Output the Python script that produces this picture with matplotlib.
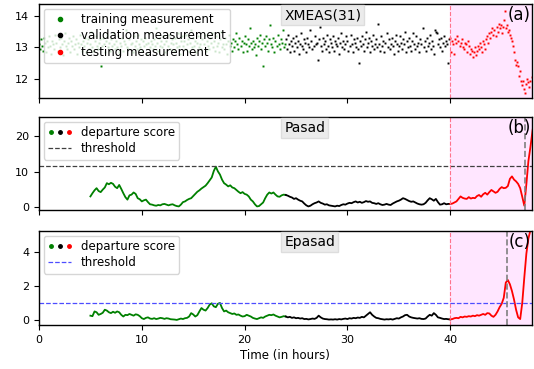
import numpy as np
import matplotlib
matplotlib.use("Agg")
import matplotlib.pyplot as plt
from matplotlib.lines import Line2D
from matplotlib.legend_handler import HandlerTuple

# XMEAS(31) measurements, one every 0.1 h from t=0
train_meas = [
    13.10, 12.95, 13.25, 13.05, 12.90, 13.30, 13.15, 12.85, 13.20, 13.00,
    13.35, 13.05, 12.80, 13.20, 13.10, 12.95, 13.40, 13.15, 12.90, 13.25,
    13.00, 13.30, 13.10, 12.75, 13.20, 13.45, 13.05, 12.95, 13.15, 13.30,
    12.85, 13.20, 13.05, 13.35, 12.95, 13.10, 13.25, 12.80, 13.15, 13.00,
    13.40, 13.10, 12.90, 13.20, 13.05, 13.30, 12.85, 13.15, 13.25, 12.95,
    13.10, 13.50, 13.00, 12.90, 13.20, 13.35, 13.05, 12.95, 13.15, 13.25,
    12.40, 13.05, 13.30, 13.10, 12.85, 13.20, 13.40, 13.00, 13.15, 12.90,
    13.25, 13.05, 13.45, 13.10, 12.95, 13.20, 13.00, 13.35, 12.85, 13.15,
    13.05, 13.30, 12.90, 13.20, 13.10, 13.55, 13.00, 12.95, 13.25, 13.10,
    13.15, 12.85, 13.35, 13.05, 13.20, 12.95, 13.40, 13.10, 13.00, 13.25,
    12.90, 13.20, 13.05, 13.30, 13.10, 12.80, 13.15, 13.45, 13.00, 13.20,
    13.10, 12.95, 13.25, 13.05, 13.60, 13.15, 12.90, 13.30, 13.05, 13.20,
    13.00, 13.35, 13.10, 12.85, 13.20, 13.05, 13.40, 12.95, 13.15, 13.25,
    13.10, 12.90, 13.30, 13.15, 13.00, 13.45, 13.05, 12.80, 13.20, 13.35,
    13.05, 13.20, 12.95, 13.40, 13.10, 13.25, 12.90, 13.15, 13.55, 13.00,
    13.30, 13.05, 13.20, 12.85, 13.15, 13.35, 13.00, 13.10, 12.95, 13.25,
    13.10, 13.40, 12.90, 13.20, 13.05, 12.95, 13.30, 13.15, 13.45, 13.00,
    13.20, 12.90, 13.35, 13.05, 13.15, 12.85, 13.25, 13.50, 13.00, 13.10,
    12.95, 13.30, 13.10, 12.80, 13.20, 13.40, 13.05, 13.15, 12.90, 13.25,
    13.00, 13.20, 13.45, 13.10, 12.95, 13.30, 13.05, 13.20, 12.85, 13.15,
    13.35, 13.10, 12.90, 13.25, 13.05, 13.60, 13.15, 12.95, 13.20, 13.00,
    13.10, 12.75, 13.30, 13.05, 13.20, 13.40, 12.95, 13.15, 12.40, 13.25,
    13.05, 13.35, 13.15, 12.90, 13.25, 13.70, 13.10, 13.00, 13.30, 12.85,
    13.20, 13.05, 13.40, 13.10, 12.95, 13.25, 13.15, 13.55, 13.00, 13.10,
]
valid_meas = [
    13.25, 12.95, 13.40, 13.10, 12.85, 13.20, 13.05, 13.30, 12.90, 13.15,
    13.35, 13.00, 13.20, 12.80, 13.10, 13.45, 13.05, 12.95, 13.25, 13.15,
    12.85, 13.30, 13.10, 13.00, 13.55, 13.20, 12.95, 13.05, 13.35, 13.10,
    13.15, 12.60, 13.25, 13.65, 13.05, 12.90, 13.30, 13.10, 13.20, 12.95,
    13.40, 13.05, 12.85, 13.25, 13.15, 13.00, 13.35, 12.90, 13.20, 13.10,
    13.05, 13.30, 12.80, 13.15, 13.45, 13.00, 13.20, 12.95, 13.10, 13.35,
    13.20, 12.90, 13.05, 13.40, 13.10, 12.85, 13.25, 13.15, 13.00, 13.30,
    12.95, 12.50, 13.20, 13.05, 13.35, 13.10, 12.90, 13.25, 13.50, 13.00,
    13.15, 13.30, 12.85, 13.20, 13.05, 13.40, 12.95, 13.10, 13.25, 13.00,
    13.75, 13.10, 12.90, 13.35, 13.05, 13.20, 12.85, 13.15, 13.45, 13.00,
    13.25, 12.95, 13.10, 13.30, 13.05, 12.80, 13.20, 13.40, 13.10, 12.90,
    13.05, 13.35, 13.15, 12.95, 13.25, 13.10, 13.50, 12.85, 13.20, 13.00,
    13.30, 13.05, 12.90, 13.20, 13.45, 13.10, 12.95, 13.35, 13.05, 13.15,
    12.85, 13.25, 13.10, 13.60, 13.00, 13.20, 12.90, 13.30, 13.05, 13.15,
    13.40, 12.95, 13.20, 13.05, 12.80, 13.55, 13.50, 13.45, 13.10, 13.25,
    13.00, 13.30, 12.90, 13.15, 13.35, 13.05, 13.20, 13.10, 12.50, 13.25,
]
test_meas = [
    13.30, 12.85, 13.20, 13.10, 12.80, 13.25, 13.15, 13.35, 13.20, 13.05,
    13.15, 13.25, 13.00, 12.95, 13.15, 13.10, 12.85, 13.20, 13.05, 12.80,
    12.95, 12.90, 12.70, 12.85, 13.00, 12.75, 12.90, 13.05, 12.95, 13.15,
    13.00, 12.85, 13.20, 13.10, 12.95, 13.25, 13.35, 13.15, 13.45, 13.30,
    13.50, 13.60, 13.40, 13.55, 13.35, 13.65, 13.50, 13.75, 13.60, 13.70,
    13.45, 13.65, 13.85, 14.15, 13.60, 13.70, 13.50, 13.55, 13.40, 13.30,
    13.20, 13.05, 12.85, 12.60, 12.45, 12.55, 12.40, 12.10, 12.25, 11.95,
    11.80, 11.95, 11.70, 11.55, 11.85, 12.00, 11.90, 11.75, 11.95, 12.05,
]

# departure scores, one every 0.2 h from t=5
pasad_train = [
    3.1, 4.0, 4.8, 5.4, 4.6, 4.3, 5.0, 5.6, 6.8, 6.5,
    6.9, 6.6, 5.8, 5.4, 6.3, 5.2, 4.0, 2.9, 2.2, 3.4,
    3.6, 4.2, 3.8, 2.6, 2.3, 1.7, 2.0, 2.2, 1.5, 0.9,
    0.8, 0.6, 0.5, 0.7, 0.6, 0.9, 1.0, 0.8, 0.6, 0.8,
    0.9, 0.6, 0.4, 0.3, 0.8, 1.5, 1.7, 2.1, 2.4, 2.6,
    3.2, 3.8, 4.4, 4.8, 5.3, 5.7, 6.1, 6.8, 7.6, 8.4,
    10.2, 11.4, 10.1, 9.2, 7.8, 6.8, 6.4, 5.9, 6.2, 5.6,
    5.4, 4.9, 4.4, 4.0, 4.3, 3.8, 3.6, 3.1, 2.2, 1.7,
    0.9, 0.3, 0.4, 0.9, 1.4, 2.6, 3.6, 4.2, 3.9, 4.2,
    3.6, 3.1, 3.0, 3.4, 3.6,
]
pasad_valid = [
    3.5, 3.3, 3.0, 2.8, 2.4, 2.6, 2.2, 1.9, 1.7, 1.1,
    0.6, 0.3, 0.5, 0.9, 1.2, 1.4, 1.7, 1.3, 1.1, 0.8,
    0.9, 0.6, 0.5, 0.4, 0.3, 0.5, 0.4, 0.7, 0.9, 0.8,
    1.1, 1.3, 1.2, 1.5, 1.7, 1.4, 1.6, 1.3, 1.5, 1.8,
    1.6, 1.7, 1.3, 1.2, 1.0, 1.2, 0.9, 0.7, 0.8, 1.0,
    0.8, 0.7, 1.1, 1.4, 1.7, 1.9, 2.2, 2.6, 2.4, 2.1,
    1.8, 1.6, 1.7, 1.4, 1.1, 0.9, 0.8, 0.9, 1.3, 2.0,
    2.6, 2.3, 1.9, 2.4, 1.5, 0.8, 0.9, 1.2, 0.9, 1.0,
]
pasad_test = [
    1.0, 1.1, 1.4, 1.7, 2.4, 3.1, 2.7, 2.5, 2.4, 2.9,
    2.5, 2.7, 2.6, 3.2, 3.5, 3.0, 3.7, 4.1, 3.6, 4.3,
    4.9, 4.5, 4.1, 4.4, 5.2, 5.7, 5.4, 5.5, 6.0, 8.0,
    8.7, 7.8, 7.3, 6.6, 5.4, 3.0, 0.5, 6.5, 13.0, 17.0,
    21.5, 25.0,
]
epasad_train = [
    0.25, 0.22, 0.50, 0.45, 0.30, 0.35, 0.42, 0.60, 0.55, 0.45,
    0.40, 0.48, 0.42, 0.50, 0.45, 0.30, 0.20, 0.30, 0.28, 0.35,
    0.30, 0.25, 0.33, 0.30, 0.22, 0.10, 0.05, 0.12, 0.15, 0.08,
    0.06, 0.10, 0.05, 0.08, 0.12, 0.10, 0.06, 0.10, 0.08, 0.04,
    0.03, 0.02, 0.00, 0.04, 0.08, 0.05, 0.10, 0.12, 0.20, 0.40,
    0.32, 0.20, 0.28, 0.50, 0.70, 0.60, 0.55, 0.70, 0.90, 0.98,
    0.80, 0.75, 0.95, 1.00, 0.70, 0.50, 0.55, 0.45, 0.40, 0.35,
    0.38, 0.30, 0.32, 0.25, 0.20, 0.22, 0.30, 0.25, 0.20, 0.12,
    0.08, 0.05, 0.10, 0.15, 0.12, 0.20, 0.25, 0.30, 0.28, 0.32,
    0.25, 0.20, 0.15, 0.18, 0.22,
]
epasad_valid = [
    0.20, 0.15, 0.18, 0.12, 0.15, 0.10, 0.12, 0.08, 0.10, 0.05,
    0.06, 0.03, 0.05, 0.08, 0.06, 0.12, 0.25, 0.15, 0.08, 0.05,
    0.04, 0.02, 0.03, 0.02, 0.04, 0.02, 0.05, 0.03, 0.06, 0.08,
    0.05, 0.10, 0.08, 0.12, 0.10, 0.14, 0.12, 0.18, 0.15, 0.25,
    0.35, 0.45, 0.30, 0.20, 0.12, 0.10, 0.06, 0.04, 0.02, 0.04,
    0.03, 0.05, 0.02, 0.06, 0.10, 0.08, 0.15, 0.20, 0.28, 0.30,
    0.20, 0.15, 0.12, 0.10, 0.08, 0.10, 0.06, 0.05, 0.08, 0.20,
    0.30, 0.25, 0.40, 0.30, 0.15, 0.12, 0.08, 0.05, 0.06, 0.04,
]
epasad_test = [
    0.03, 0.05, 0.10, 0.12, 0.10, 0.18, 0.15, 0.20, 0.18, 0.22,
    0.20, 0.25, 0.22, 0.28, 0.25, 0.30, 0.35, 0.30, 0.40, 0.38,
    0.25, 0.18, 0.30, 0.50, 0.75, 0.95, 1.30, 2.20, 2.35, 2.10,
    1.70, 1.20, 0.60, 0.15, 0.05, 1.00, 2.50, 3.90, 4.80, 5.30,
    5.80,
]

pasad_threshold = 11.5
epasad_threshold = 1.0
pasad_alarm = 47.3
epasad_alarm = 45.5
test_start = 40.0

meas_dt, score_dt, score_t0 = 0.1, 0.2, 5.0

fig = plt.figure(figsize=(5.34, 3.69), dpi=100)
W, H = 534, 369
def box(x0, y0, x1, y1):
    return [x0 / W, 1 - y1 / H, (x1 - x0) / W, (y1 - y0) / H]

ax1 = fig.add_axes(box(39, 4, 531.5, 98))
ax2 = fig.add_axes(box(39, 117, 531.5, 210), sharex=ax1)
ax3 = fig.add_axes(box(39, 231, 531.5, 325), sharex=ax1)

# --- top: measurements
n1, n2 = len(train_meas), len(valid_meas)
t_all = np.arange(n1 + n2 + len(test_meas)) * meas_dt
ax1.plot(t_all[:n1], train_meas, 's', color='g', ms=1.4, mew=0)
ax1.plot(t_all[n1:n1 + n2], valid_meas, 's', color='k', ms=1.4, mew=0)
ax1.plot(t_all[n1 + n2:], test_meas, 's', color='r', ms=1.4, mew=0)
ax1.set_ylim(11.4, 14.37)
ax1.set_yticks([12, 13, 14])
h_tr = Line2D([], [], ls='', marker='o', color='g', ms=3)
h_va = Line2D([], [], ls='', marker='o', color='k', ms=3)
h_te = Line2D([], [], ls='', marker='o', color='r', ms=3)
ax1.legend([h_tr, h_va, h_te],
           ['training measurement', 'validation measurement', 'testing measurement'],
           loc='upper left', fontsize=8.5, labelspacing=0.3,
           borderaxespad=0.4, borderpad=0.35)


def score_panel(ax, tr, va, te, thr, thr_color, alarm):
    m1, m2 = len(tr), len(va)
    t = score_t0 + np.arange(m1 + m2 + len(te)) * score_dt
    y = np.array(tr + va + te)
    ax.plot(t[:m1 + 1], y[:m1 + 1], color='g', lw=1.3)
    ax.plot(t[m1:m1 + m2 + 1], y[m1:m1 + m2 + 1], color='k', lw=1.3)
    ax.plot(t[m1 + m2:], y[m1 + m2:], color='r', lw=1.3)
    ax.axhline(thr, color=thr_color, ls='--', lw=0.9)
    ax.axvline(alarm, color='gray', ls='--', lw=1.2)
    dots = tuple(Line2D([], [], ls='', marker='o', color=c, ms=2.5)
                 for c in ('g', 'k', 'r'))
    thr_h = Line2D([], [], color=thr_color, ls='--', lw=0.9)
    ax.legend([dots, thr_h], ['departure score', 'threshold'],
              handler_map={tuple: HandlerTuple(ndivide=None, pad=0.3)},
              loc='upper left', fontsize=8.5, handlelength=2.0, labelspacing=0.3,
              borderaxespad=0.4, borderpad=0.35, handletextpad=0.8)


score_panel(ax2, pasad_train, pasad_valid, pasad_test, pasad_threshold,
            (0.25, 0.25, 0.25), pasad_alarm)
ax2.set_ylim(-0.7, 25.3)
ax2.set_yticks([0, 10, 20])

score_panel(ax3, epasad_train, epasad_valid, epasad_test, epasad_threshold,
            (0.3, 0.3, 1.0), epasad_alarm)
ax3.set_ylim(-0.3, 5.24)
ax3.set_yticks([0, 2, 4])

titles = ['XMEAS(31)', 'Pasad', 'Epasad']
tags = ['(a)', '(b)', '(c)']
for ax, title, tag in zip([ax1, ax2, ax3], titles, tags):
    ax.axvspan(test_start, 60, color=(1.0, 0.9, 1.0), zorder=0)
    ax.axvline(test_start, color=(1.0, 0.45, 0.55), ls='--', lw=0.8)
    ax.text(0.498, 0.955, title, transform=ax.transAxes, ha='left', va='top',
            fontsize=10, bbox=dict(facecolor='#ebebeb', edgecolor='#dddddd',
                                   boxstyle='square,pad=0.2'))
    ax.text(0.998, 0.975, tag, transform=ax.transAxes, ha='right', va='top',
            fontsize=12)
    ax.tick_params(labelsize=8, length=3.5, width=0.8)
    for s in ax.spines.values():
        s.set_linewidth(1.0)

ax1.set_xlim(0, 47.9)
ax1.tick_params(labelbottom=False)
ax2.tick_params(labelbottom=False)
ax3.set_xticks([0, 10, 20, 30, 40])
ax3.set_xlabel('Time (in hours)', fontsize=8.5, labelpad=3)

fig.savefig('out.png', dpi=100)
